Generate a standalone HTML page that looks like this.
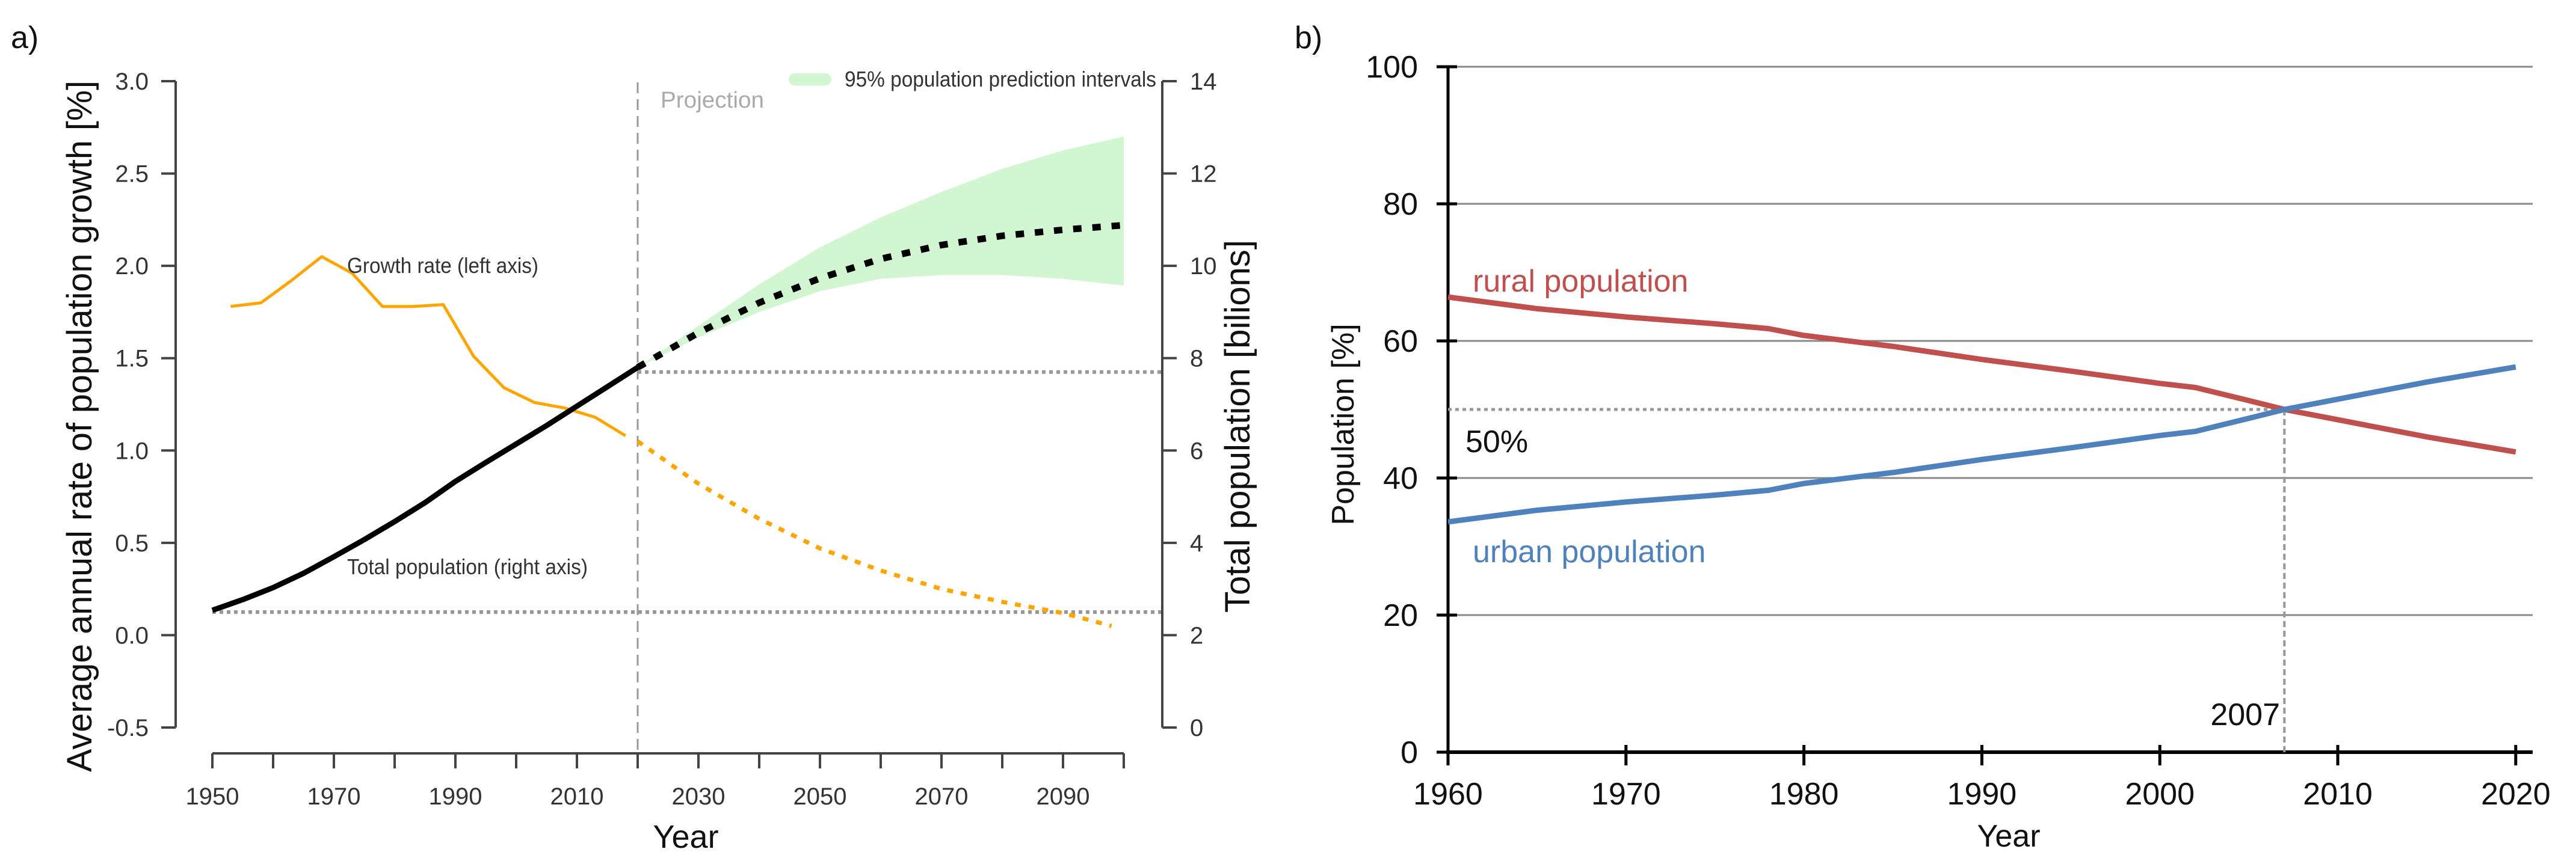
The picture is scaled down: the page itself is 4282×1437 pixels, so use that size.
<!DOCTYPE html>
<html><head><meta charset="utf-8"><style>
html,body{margin:0;padding:0;background:#fff;}
svg{display:block;font-family:"Liberation Sans",Arial,sans-serif;}
</style></head><body>
<svg id="fig" width="4282" height="1437" viewBox="0 0 4282 1437" xmlns="http://www.w3.org/2000/svg">
<g id="pa"></g>
<g id="pb"></g>
</svg>
<script>
// ---------- Panel a data ----------
const growthYears = [1953,1958,1963,1968,1973,1978,1983,1988,1993,1998,2003,2008,2013,2018];
const growthRates = [1.78,1.80,1.92,2.05,1.96,1.78,1.78,1.79,1.51,1.34,1.26,1.23,1.18,1.08];
const growthProjYears = [2020,2030,2040,2050,2060,2070,2080,2090,2098];
const growthProjRates = [1.05,0.82,0.63,0.47,0.35,0.25,0.18,0.12,0.05];
const popYears = [1950,1955,1960,1965,1970,1975,1980,1985,1990,1995,2000,2005,2010,2015,2020];
const popValues = [2.54,2.77,3.03,3.34,3.70,4.07,4.46,4.87,5.33,5.74,6.14,6.54,6.96,7.38,7.80];
const projYears = [2020,2030,2040,2050,2060,2070,2080,2090,2100];
const projValues = [7.80,8.55,9.20,9.73,10.15,10.45,10.65,10.78,10.88];
const bandUpper = [7.80,8.70,9.60,10.40,11.05,11.60,12.10,12.50,12.80];
const bandLower = [7.80,8.45,9.00,9.45,9.72,9.80,9.80,9.72,9.57];
const leftTicks = [-0.5,0.0,0.5,1.0,1.5,2.0,2.5,3.0];
const leftTickLabels = ["-0.5","0.0","0.5","1.0","1.5","2.0","2.5","3.0"];
const rightTicks = [0,2,4,6,8,10,12,14];
const xTicksA = [1950,1960,1970,1980,1990,2000,2010,2020,2030,2040,2050,2060,2070,2080,2090,2100];
const xLabelsA = [1950,1970,1990,2010,2030,2050,2070,2090];
// ---------- Panel b data ----------
const urbYears = [1960,1965,1970,1975,1978,1980,1985,1990,1995,2000,2002,2005,2007,2010,2015,2020];
const ruralPct = [66.4,64.7,63.5,62.5,61.8,60.8,59.2,57.3,55.6,53.8,53.2,51.3,50.0,48.5,46.0,43.8];
const urbanPct = [33.6,35.3,36.5,37.5,38.2,39.2,40.8,42.7,44.4,46.2,46.8,48.7,50.0,51.5,54.0,56.2];
const yTicksB = [0,20,40,60,80,100];
const xTicksB = [1960,1970,1980,1990,2000,2010,2020];

const NS="http://www.w3.org/2000/svg";
function mk(parent,tag,attrs,text){const e=document.createElementNS(NS,tag);for(const k in attrs)e.setAttribute(k,attrs[k]);if(text!==undefined)e.textContent=text;parent.appendChild(e);return e;}

// ---- Panel a ----
const pa=document.getElementById('pa');
const xA=y=>353+(y-1950)*10.1;
const yL=v=>1210-(v+0.5)*307.14;
const yR=v=>1210-v*76.79;
const ptsA=(xs,vs,f)=>xs.map((x,i)=>xA(x).toFixed(1)+','+f(vs[i]).toFixed(1)).join(' ');

let t;
t=mk(pa,'text',{x:18,y:80,'font-size':52,fill:'#111'},'a)');


const bandPts=projYears.map((y,i)=>xA(y)+','+yR(bandUpper[i])).concat(projYears.slice().reverse().map((y,i)=>xA(y)+','+yR(bandLower[projYears.length-1-i])));
t=mk(pa,'polygon',{points:bandPts.join(' '),fill:'#d2f5d2'});


t=mk(pa,'line',{x1:xA(2020),y1:137,x2:xA(2020),y2:1253,stroke:'#999','stroke-width':3,'stroke-dasharray':'18,10'});

t=mk(pa,'line',{x1:xA(2020),y1:yR(7.7),x2:1932,y2:yR(7.7),stroke:'#999','stroke-width':6,'stroke-dasharray':'6,6'});

t=mk(pa,'line',{x1:xA(1950),y1:yR(2.5),x2:1932,y2:yR(2.5),stroke:'#999','stroke-width':6,'stroke-dasharray':'6,6'});


t=mk(pa,'polyline',{points:ptsA(growthYears,growthRates,yL),fill:'none',stroke:'#ffa500','stroke-width':5,'stroke-linejoin':'round'});

t=mk(pa,'polyline',{points:ptsA(growthProjYears,growthProjRates,yL),fill:'none',stroke:'#ffa500','stroke-width':7,'stroke-dasharray':'10,13'});

t=mk(pa,'polyline',{points:ptsA(popYears,popValues,yR),fill:'none',stroke:'#000','stroke-width':9,'stroke-linejoin':'round'});

t=mk(pa,'polyline',{points:ptsA(projYears,projValues,yR),fill:'none',stroke:'#000','stroke-width':11,'stroke-dasharray':'14,18'});


t=mk(pa,'line',{x1:292,y1:yL(3),x2:292,y2:yL(-0.5),stroke:'#444','stroke-width':4});

leftTicks.forEach((v,i)=>{
  const tk=mk(pa,'line',{x1:268,y1:yL(v),x2:292,y2:yL(v),stroke:'#444','stroke-width':4});
  
  const lb=mk(pa,'text',{x:247,y:yL(v)+14,'font-size':40,'text-anchor':'end',fill:'#333'},leftTickLabels[i]);
  
});
t=mk(pa,'line',{x1:1932,y1:yR(14),x2:1932,y2:yR(0),stroke:'#444','stroke-width':4});

rightTicks.forEach(v=>{
  const tk=mk(pa,'line',{x1:1932,y1:yR(v),x2:1956,y2:yR(v),stroke:'#444','stroke-width':4});
  
  const lb=mk(pa,'text',{x:1978,y:yR(v)+14,'font-size':40,fill:'#333'},String(v));
  
});
t=mk(pa,'line',{x1:xA(1950),y1:1253,x2:xA(2100),y2:1253,stroke:'#444','stroke-width':4});

xTicksA.forEach(y=>{
  const tk=mk(pa,'line',{x1:xA(y),y1:1253,x2:xA(y),y2:1278,stroke:'#444','stroke-width':4});
  
});
xLabelsA.forEach(y=>{
  const lb=mk(pa,'text',{x:xA(y),y:1338,'font-size':40,'text-anchor':'middle',fill:'#333'},String(y));
  
});
t=mk(pa,'text',{x:1140,y:1410,'font-size':54,'text-anchor':'middle',fill:'#111'},'Year');

t=mk(pa,'text',{x:0,y:0,'font-size':58,'text-anchor':'middle',fill:'#111',transform:'translate(152,709) rotate(-90)',textLength:1150,lengthAdjust:'spacingAndGlyphs'},'Average annual rate of population growth [%]');

t=mk(pa,'text',{x:0,y:0,'font-size':58,'text-anchor':'middle',fill:'#111',transform:'translate(2077,709) rotate(-90)',textLength:620,lengthAdjust:'spacingAndGlyphs'},'Total population [bilions]');

t=mk(pa,'text',{x:1098,y:179,'font-size':38,fill:'#aaa',textLength:172,lengthAdjust:'spacingAndGlyphs'},'Projection');

t=mk(pa,'rect',{x:1311,y:122,width:71,height:20,rx:10,fill:'#d2f5d2'});

t=mk(pa,'text',{x:1404,y:144,'font-size':36,fill:'#333',textLength:518,lengthAdjust:'spacingAndGlyphs'},'95% population prediction intervals');

t=mk(pa,'text',{x:577,y:454,'font-size':36,fill:'#333',textLength:318,lengthAdjust:'spacingAndGlyphs'},'Growth rate (left axis)');

t=mk(pa,'text',{x:577,y:955,'font-size':36,fill:'#333',textLength:400,lengthAdjust:'spacingAndGlyphs'},'Total population (right axis)');


// ---- Panel b ----
const pb=document.getElementById('pb');
const xB=y=>2407+(y-1960)*29.58;
const yB=v=>1251-v*11.4;
const ptsB=(xs,vs)=>xs.map((x,i)=>xB(x).toFixed(1)+','+yB(vs[i]).toFixed(1)).join(' ');
t=mk(pb,'text',{x:2152,y:80,'font-size':52,fill:'#111'},'b)');

yTicksB.forEach(v=>{
  if(v>0){const g=mk(pb,'line',{x1:2407,y1:yB(v),x2:4210,y2:yB(v),stroke:'#888','stroke-width':3});
  }
  const tk=mk(pb,'line',{x1:2388,y1:yB(v),x2:2422,y2:yB(v),stroke:'#000','stroke-width':5});
  
  const lb=mk(pb,'text',{x:2357,y:yB(v)+18,'font-size':52,'text-anchor':'end',fill:'#111'},String(v));
  
});
t=mk(pb,'line',{x1:2407,y1:yB(100),x2:2407,y2:yB(0),stroke:'#000','stroke-width':5});

t=mk(pb,'line',{x1:2404,y1:yB(0),x2:4210,y2:yB(0),stroke:'#000','stroke-width':6});

xTicksB.forEach(y=>{
  const tk=mk(pb,'line',{x1:xB(y),y1:yB(0)-12,x2:xB(y),y2:yB(0)+22,stroke:'#000','stroke-width':5});
  
  const lb=mk(pb,'text',{x:xB(y),y:1338,'font-size':52,'text-anchor':'middle',fill:'#111'},String(y));
  
});
t=mk(pb,'line',{x1:2407,y1:yB(50),x2:xB(2007),y2:yB(50),stroke:'#999','stroke-width':5,'stroke-dasharray':'6,6'});

t=mk(pb,'line',{x1:xB(2007),y1:yB(50),x2:xB(2007),y2:yB(0),stroke:'#999','stroke-width':4,'stroke-dasharray':'10,6'});

t=mk(pb,'polyline',{points:ptsB(urbYears,ruralPct),fill:'none',stroke:'#c0504d','stroke-width':9,'stroke-linejoin':'round'});

t=mk(pb,'polyline',{points:ptsB(urbYears,urbanPct),fill:'none',stroke:'#4f81bd','stroke-width':9,'stroke-linejoin':'round'});

t=mk(pb,'text',{x:2448,y:485,'font-size':52,fill:'#c0504d'},'rural population');

t=mk(pb,'text',{x:2448,y:935,'font-size':52,fill:'#4f81bd'},'urban population');

t=mk(pb,'text',{x:2436,y:752,'font-size':52,fill:'#111'},'50%');

t=mk(pb,'text',{x:3790,y:1206,'font-size':52,'text-anchor':'end',fill:'#111'},'2007');

t=mk(pb,'text',{x:3339,y:1408,'font-size':52,'text-anchor':'middle',fill:'#111'},'Year');

t=mk(pb,'text',{x:0,y:0,'font-size':52,'text-anchor':'middle',fill:'#111',transform:'translate(2250,706) rotate(-90)'},'Population [%]');

</script>
</body></html>
